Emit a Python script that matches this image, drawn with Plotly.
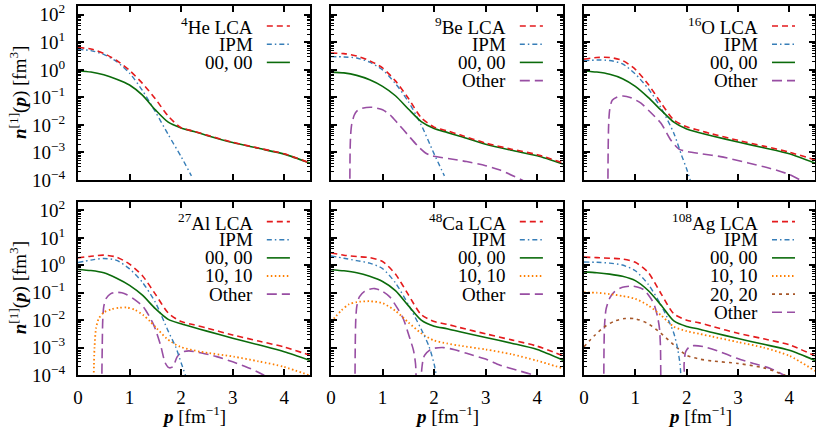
import numpy as np
import plotly.graph_objects as go
from plotly.subplots import make_subplots

# ---------------- data (log10 of n^[1](p) in fm^3) -------------
P = [0, 0.25, 0.5, 0.75, 1.0, 1.25, 1.5, 1.75, 2.0, 2.25, 2.5, 3.0, 3.5, 4.0, 4.5]

HE_LCA = [0.81, 0.76, 0.60, 0.34, -0.02, -0.49, -1.05, -1.68, -2.10, -2.23, -2.37, -2.63, -2.84, -3.05, -3.38]
HE_00 = [-0.04, -0.08, -0.18, -0.34, -0.55, -0.92, -1.45, -1.90, -2.11, -2.24, -2.38, -2.64, -2.85, -3.06, -3.39]
HE_IPM_P = [0, 0.25, 0.5, 0.75, 1.0, 1.25, 1.5, 1.75, 2.0, 2.2]
HE_IPM = [0.75, 0.70, 0.56, 0.30, -0.12, -0.75, -1.52, -2.35, -3.15, -3.85]

BE_LCA = [0.61, 0.59, 0.50, 0.33, 0.07, -0.40, -1.03, -1.74, -2.08, -2.21, -2.36, -2.66, -2.88, -3.08, -3.38]
BE_00 = [-0.08, -0.11, -0.20, -0.36, -0.60, -0.94, -1.42, -1.88, -2.13, -2.27, -2.41, -2.70, -2.92, -3.12, -3.42]
BE_IPM_P = [0, 0.25, 0.5, 0.75, 1.0, 1.25, 1.5, 1.75, 2.0, 2.2]
BE_IPM = [0.48, 0.47, 0.43, 0.28, 0.0, -0.50, -1.15, -2.00, -3.05, -3.85]
BE_OTH_P = [0.365, 0.37, 0.38, 0.40, 0.45, 0.5, 0.6, 0.8, 1.0, 1.15, 1.3, 1.5, 1.7, 1.82, 1.92, 2.0, 2.3, 2.63, 3.0, 3.28, 3.7, 3.9]
BE_OTH = [-4.5, -3.0, -2.4, -2.0, -1.65, -1.5, -1.4, -1.36, -1.45, -1.64, -1.95, -2.38, -2.80, -3.0, -3.1, -3.14, -3.23, -3.33, -3.48, -3.64, -4.0, -4.2]

O_LCA = [0.39, 0.45, 0.45, 0.34, 0.02, -0.52, -1.20, -1.82, -2.07, -2.20, -2.33, -2.56, -2.77, -2.99, -3.27]
O_00 = [-0.04, -0.08, -0.16, -0.32, -0.60, -1.00, -1.46, -1.90, -2.15, -2.28, -2.40, -2.62, -2.83, -3.05, -3.39]
O_IPM_P = [0, 0.25, 0.5, 0.75, 1.0, 1.25, 1.5, 1.75, 1.9, 2.0, 2.1]
O_IPM = [0.33, 0.36, 0.34, 0.22, -0.15, -0.68, -1.38, -2.30, -3.10, -3.60, -4.20]
O_OTH_P = [0.465, 0.47, 0.48, 0.5, 0.55, 0.65, 0.76, 0.9, 1.11, 1.3, 1.5, 1.69, 1.85, 2.02, 2.3, 2.66, 3.2, 3.63, 4.0, 4.21, 4.4]
O_OTH = [-4.5, -3.0, -2.0, -1.45, -1.1, -0.98, -0.95, -1.0, -1.21, -1.55, -1.94, -2.55, -2.88, -2.97, -3.05, -3.15, -3.38, -3.58, -3.80, -4.0, -4.2]

AL_LCA = [0.27, 0.33, 0.37, 0.30, 0.04, -0.38, -1.05, -1.74, -2.05, -2.17, -2.29, -2.54, -2.76, -2.98, -3.28]
AL_00 = [-0.15, -0.19, -0.27, -0.47, -0.73, -1.09, -1.58, -1.97, -2.13, -2.27, -2.40, -2.66, -2.90, -3.15, -3.47]
AL_IPM_P = [0, 0.25, 0.5, 0.75, 1.0, 1.25, 1.5, 1.75, 1.9, 2.0, 2.12]
AL_IPM = [0.10, 0.19, 0.25, 0.18, -0.13, -0.62, -1.35, -2.40, -3.0, -3.55, -4.2]
AL_1010_P = [0.30, 0.32, 0.35, 0.40, 0.5, 0.65, 0.8, 0.95, 1.1, 1.27, 1.4, 1.53, 1.72, 1.98, 2.37, 3.02, 3.5, 3.99, 4.5]
AL_1010 = [-4.5, -3.0, -2.3, -1.95, -1.72, -1.60, -1.55, -1.54, -1.62, -1.82, -2.05, -2.30, -2.67, -2.97, -3.15, -3.33, -3.50, -3.70, -4.02]
AL_OTH_P = [0.46, 0.47, 0.48, 0.5, 0.55, 0.63, 0.72, 0.85, 0.95, 1.1, 1.27, 1.47, 1.6, 1.69, 1.76, 1.84, 1.92, 2.0, 2.15, 2.4, 2.69, 3.0, 3.34, 3.6, 3.8]
AL_OTH = [-4.5, -3.0, -2.0, -1.5, -1.2, -1.04, -0.99, -1.0, -1.07, -1.25, -1.52, -2.18, -2.90, -3.55, -3.73, -3.70, -3.35, -3.18, -3.12, -3.20, -3.33, -3.52, -3.76, -4.0, -4.2]

CA_LCA = [0.45, 0.37, 0.32, 0.28, 0.14, -0.32, -1.07, -1.80, -2.05, -2.15, -2.27, -2.50, -2.72, -2.95, -3.30]
CA_00 = [-0.16, -0.20, -0.27, -0.40, -0.59, -0.92, -1.47, -2.00, -2.22, -2.31, -2.42, -2.63, -2.84, -3.07, -3.46]
CA_IPM_P = [0, 0.25, 0.5, 0.75, 1.0, 1.25, 1.5, 1.75, 1.9, 2.0, 2.06]
CA_IPM = [0.34, 0.26, 0.17, 0.08, -0.12, -0.64, -1.43, -2.33, -2.95, -3.60, -4.2]
CA_1010_P = [0, 0.1, 0.2, 0.35, 0.5, 0.75, 1.0, 1.25, 1.5, 1.75, 2.0, 2.25, 2.5, 3.0, 3.5, 4.0, 4.5]
CA_1010 = [-2.06, -1.85, -1.65, -1.42, -1.34, -1.31, -1.38, -1.66, -2.08, -2.48, -2.74, -2.85, -2.93, -3.07, -3.24, -3.48, -3.76]
CA_OTH_P = [0.465, 0.47, 0.48, 0.5, 0.55, 0.65, 0.75, 0.85, 1.0, 1.14, 1.3, 1.4, 1.53, 1.6, 1.64, 1.66, 1.7, 1.74, 1.76, 1.79, 1.82, 1.95, 2.18, 2.4, 2.63, 3.0, 3.28, 3.6, 3.92, 4.1]
CA_OTH = [-4.5, -3.0, -2.0, -1.5, -1.15, -0.95, -0.87, -0.85, -0.95, -1.15, -1.60, -1.94, -2.67, -3.10, -3.60, -4.5, -5.0, -4.5, -3.80, -3.40, -3.27, -3.05, -3.0, -3.08, -3.21, -3.42, -3.64, -3.82, -4.0, -4.15]

AG_LCA = [0.30, 0.28, 0.26, 0.23, 0.11, -0.26, -1.03, -1.77, -2.00, -2.10, -2.23, -2.48, -2.68, -2.90, -3.30]
AG_00 = [-0.24, -0.27, -0.32, -0.40, -0.56, -0.92, -1.45, -2.03, -2.23, -2.33, -2.45, -2.67, -2.88, -3.10, -3.47]
AG_IPM_P = [0, 0.25, 0.5, 0.75, 1.0, 1.25, 1.5, 1.65, 1.75, 1.82, 1.87, 1.9]
AG_IPM = [0.12, 0.11, 0.08, 0.01, -0.20, -0.69, -1.45, -2.02, -2.48, -3.0, -3.6, -4.4]
AG_1010 = [-0.99, -1.00, -1.05, -1.12, -1.22, -1.46, -1.82, -2.24, -2.40, -2.50, -2.60, -2.80, -3.00, -3.30, -3.85]
AG_2020_P = [0, 0.2, 0.4, 0.6, 0.8, 1.0, 1.25, 1.5, 1.75, 2.0, 2.25, 2.5, 3.0, 3.5, 3.9, 4.2]
AG_2020 = [-2.97, -2.57, -2.24, -2.03, -1.94, -1.95, -2.13, -2.48, -2.90, -3.28, -3.42, -3.49, -3.58, -3.74, -4.0, -4.3]
AG_OTH_P = [0.385, 0.39, 0.40, 0.43, 0.5, 0.6, 0.75, 0.95, 1.1, 1.18, 1.3, 1.37, 1.43, 1.47, 1.49, 1.5, 1.52, 1.93, 1.95, 1.98, 2.05, 2.14, 2.34, 2.6, 2.98, 3.3, 3.63, 3.89, 4.1]
AG_OTH = [-4.5, -3.0, -2.2, -1.6, -1.2, -0.95, -0.80, -0.76, -0.83, -0.91, -1.20, -1.45, -1.85, -2.30, -3.0, -4.5, -5.0, -5.0, -3.6, -3.15, -2.98, -2.93, -2.97, -3.12, -3.39, -3.58, -3.76, -4.0, -4.2]

NUCLEI = ["<sup>4</sup>He", "<sup>9</sup>Be", "<sup>16</sup>O",
          "<sup>27</sup>Al", "<sup>48</sup>Ca", "<sup>108</sup>Ag"]
Y_TICK_EXP = [-4, -3, -2, -1, 0, 1, 2]
X_TICKS = [0, 1, 2, 3, 4]

# ---------------- styles ----------------
RED = "#e41a1c"
BLUE = "#377eb8"
GREEN = "#0b6b0b"
ORANGE = "#ff7f00"
BROWN = "#a65628"
PURPLE = "#984ea3"

STY = {
    "LCA": dict(color=RED, dash="6px,4px", width=1.6),
    "IPM": dict(color=BLUE, dash="5px,3px,1.5px,3px", width=1.4),
    "00": dict(color=GREEN, dash="solid", width=1.6),
    "1010": dict(color=ORANGE, dash="1.5px,2.5px", width=1.8),
    "2020": dict(color=BROWN, dash="3px,4px", width=1.6),
    "OTH": dict(color=PURPLE, dash="10px,5px", width=1.6),
}
LABEL = {"IPM": "IPM", "00": "00, 00", "1010": "10, 10", "2020": "20, 20", "OTH": "Other"}

panels = [
    [("LCA", P, HE_LCA), ("IPM", HE_IPM_P, HE_IPM), ("00", P, HE_00)],
    [("LCA", P, BE_LCA), ("IPM", BE_IPM_P, BE_IPM), ("00", P, BE_00), ("OTH", BE_OTH_P, BE_OTH)],
    [("LCA", P, O_LCA), ("IPM", O_IPM_P, O_IPM), ("00", P, O_00), ("OTH", O_OTH_P, O_OTH)],
    [("LCA", P, AL_LCA), ("IPM", AL_IPM_P, AL_IPM), ("00", P, AL_00), ("1010", AL_1010_P, AL_1010),
     ("OTH", AL_OTH_P, AL_OTH)],
    [("LCA", P, CA_LCA), ("IPM", CA_IPM_P, CA_IPM), ("00", P, CA_00), ("1010", CA_1010_P, CA_1010),
     ("OTH", CA_OTH_P, CA_OTH)],
    [("LCA", P, AG_LCA), ("IPM", AG_IPM_P, AG_IPM), ("00", P, AG_00), ("1010", P, AG_1010),
     ("2020", AG_2020_P, AG_2020), ("OTH", AG_OTH_P, AG_OTH)],
]

W, H = 816, 427
ML, MR, MT, MB = 78, 0, 6, 52
PW = W - ML - MR
PH = H - MT - MB
col_dom = [[0, 232 / PW], [253 / PW, 485 / PW], [506 / PW, 737 / PW]]
row_dom = [[(PH - 174) / PH, 1.0], [0.0, 173.3 / PH]]

fig = make_subplots(rows=2, cols=3)
FONT = '"Liberation Serif", "DejaVu Serif", "Times New Roman", serif'
FS = 19

annotations = []
shapes = []
for k, curves in enumerate(panels):
    r, c = k // 3, k % 3
    order = ["OTH", "2020", "1010", "IPM", "00", "LCA"]
    for key in order:
        for (kk, px, py) in curves:
            if kk != key:
                continue
            s = STY[kk]
            fig.add_trace(go.Scatter(
                x=px, y=10 ** np.array(py, dtype=float), mode="lines",
                line=dict(color=s["color"], dash=s["dash"], width=s["width"],
                          shape="spline", smoothing=0.7),
                showlegend=False, hoverinfo="skip"), row=r + 1, col=c + 1)
    idx = "" if k == 0 else str(k + 1)
    pw_px = 231.0
    ph_px = 174.0
    for i, (kk, _, _) in enumerate(curves):
        yy = 1 - (20 + 18.2 * i) / ph_px
        txt = NUCLEI[k] + " LCA" if kk == "LCA" else LABEL[kk]
        annotations.append(dict(
            x=1 - 55 / pw_px, y=yy, xref=f"x{idx} domain", yref=f"y{idx} domain",
            text=txt, showarrow=False, xanchor="right", yanchor="middle",
            font=dict(family=FONT, size=FS, color="black")))
        s = STY[kk]
        shapes.append(dict(
            type="line", xref=f"x{idx} domain", yref=f"y{idx} domain",
            x0=1 - 43 / pw_px, x1=1 - 20 / pw_px, y0=yy, y1=yy,
            line=dict(color=s["color"], dash=s["dash"], width=s["width"])))

minor_vals = [m * 10.0 ** e for e in range(-4, 3) for m in range(2, 10)]
for k in range(6):
    r, c = k // 3, k % 3
    fig.update_xaxes(
        domain=col_dom[c], range=[0, 4.5], tickvals=X_TICKS,
        ticks="inside", ticklen=6, tickwidth=1.5, tickcolor="black",
        showline=True, linewidth=2, linecolor="black", mirror="allticks",
        showgrid=False, zeroline=False, showticklabels=(r == 1),
        ticklabelstandoff=4,
        tickfont=dict(family=FONT, size=FS, color="black"),
        row=r + 1, col=c + 1)
    fig.update_yaxes(
        domain=row_dom[r], type="log", range=[-4, 2.32],
        tickvals=[10.0 ** e for e in Y_TICK_EXP],
        ticktext=["10<sup>" + (str(e) if e >= 0 else "\u2212" + str(-e)) + "</sup>" for e in Y_TICK_EXP],
        ticks="inside", ticklen=6, tickwidth=1.5, tickcolor="black",
        minor=dict(tickvals=minor_vals, ticks="inside", ticklen=3, tickwidth=1, tickcolor="black"),
        showline=True, linewidth=2, linecolor="black", mirror="allticks",
        showgrid=False, zeroline=False, showticklabels=(c == 0),
        ticklabelstandoff=7,
        tickfont=dict(family=FONT, size=FS, color="black"),
        row=r + 1, col=c + 1)

ytitle = "<b><i>n</i></b><sup>[1]</sup>(<b><i>p</i></b>) [fm<sup>3</sup>]"
for r in range(2):
    yc = (row_dom[r][0] + row_dom[r][1]) / 2
    annotations.append(dict(
        x=(18 - ML) / PW, y=yc, xref="paper", yref="paper", text=ytitle,
        textangle=-90, showarrow=False, xanchor="center", yanchor="middle",
        font=dict(family=FONT, size=FS, color="black")))
xtitle = "<b><i>p</i></b> [fm<sup>\u22121</sup>]"
for c in range(3):
    xc = (col_dom[c][0] + col_dom[c][1]) / 2
    annotations.append(dict(
        x=xc, y=(375 - 415) / PH, xref="paper", yref="paper", text=xtitle,
        showarrow=False, xanchor="center", yanchor="middle",
        font=dict(family=FONT, size=FS, color="black")))

fig.update_layout(
    width=W, height=H, margin=dict(l=ML, r=MR, t=MT, b=MB),
    paper_bgcolor="white", plot_bgcolor="white",
    annotations=annotations, shapes=shapes, showlegend=False,
    font=dict(family=FONT, size=FS, color="black"),
)
fig.write_html("out.html")
